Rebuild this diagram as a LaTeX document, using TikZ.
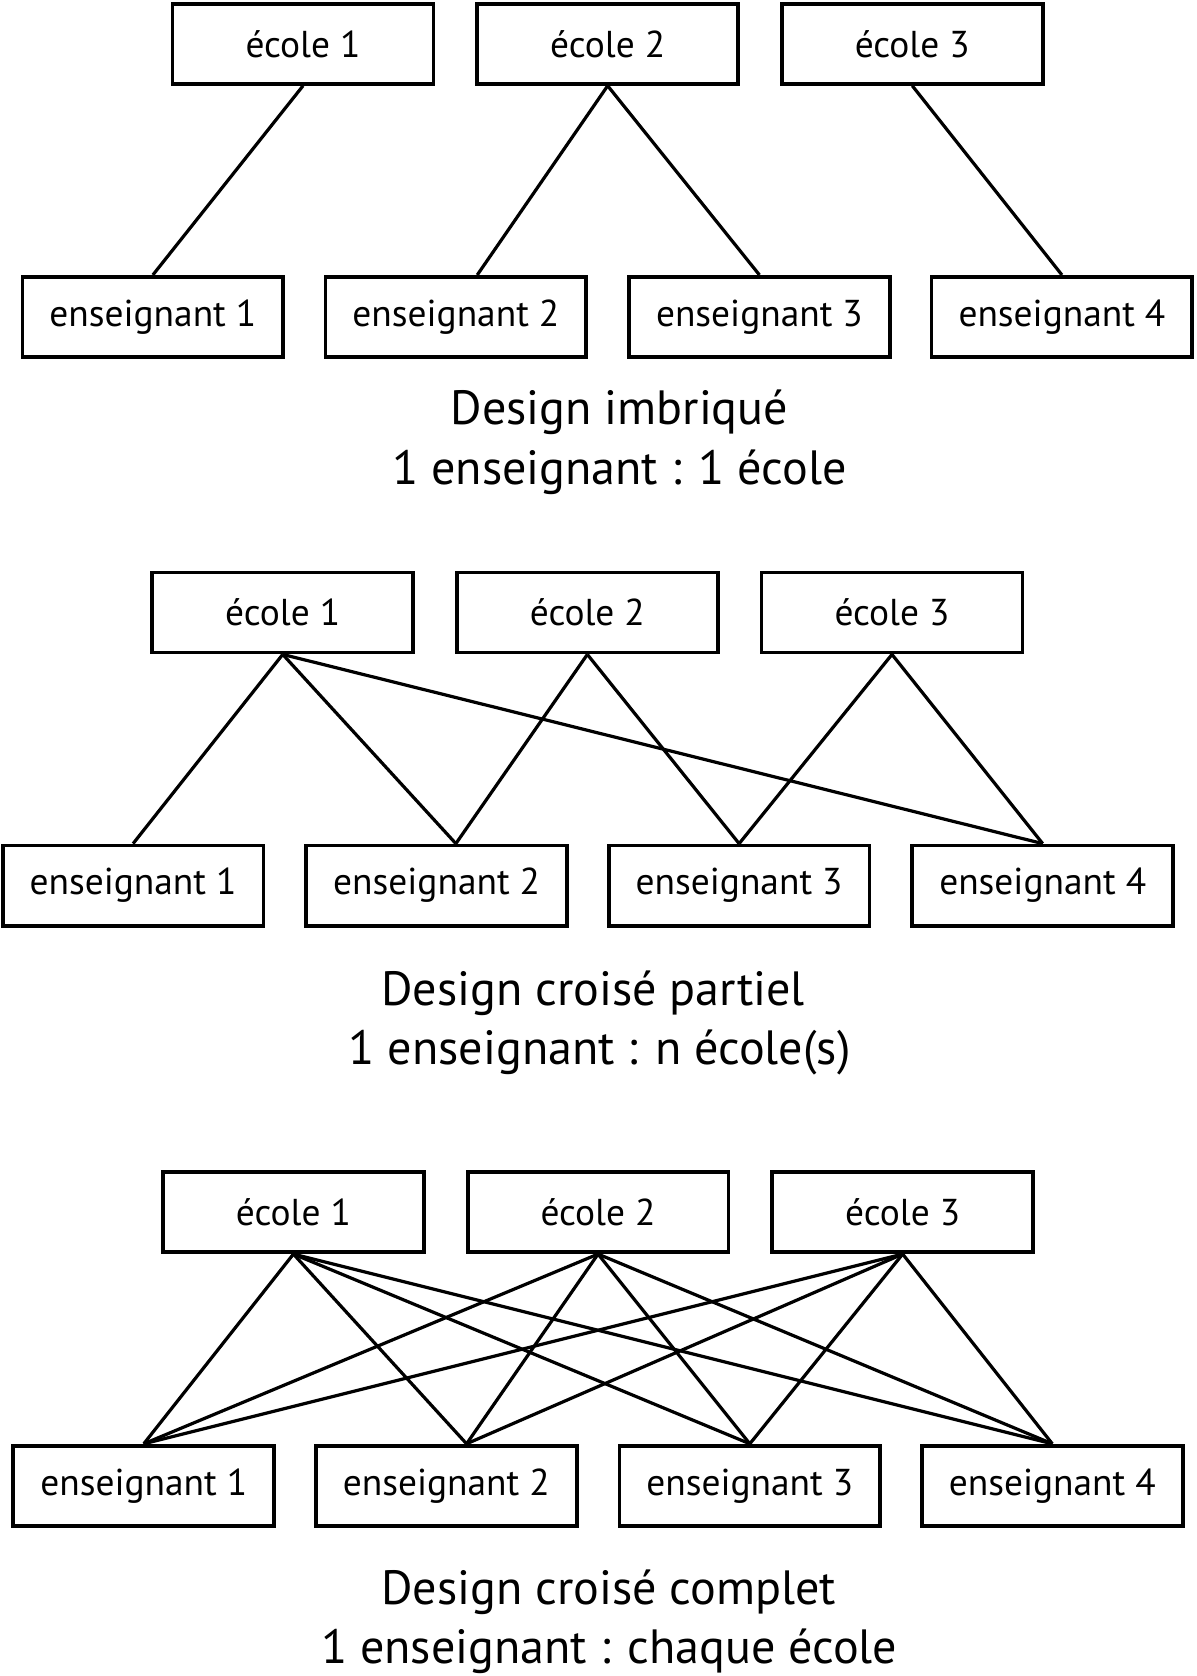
\documentclass[tikz,border=0pt]{standalone}
\usepackage{fontspec}
\setmainfont{PT Sans}
\begin{document}
\begin{tikzpicture}[x=1pt,y=-1pt,
  box/.style={draw, line width=3.5pt, minimum width=244pt, minimum height=75pt, inner sep=0pt, font=\fontsize{35}{42}\selectfont},
  link/.style={line width=3pt},
  ttl/.style={font=\fontsize{45}{54}\selectfont, anchor=base, inner sep=0pt}]
\useasboundingbox (0,0) rectangle (1119,1568);
% Section 1
\node[box] (a1) at (283.5,41) {école 1};
\node[box] (a2) at (568.5,41) {école 2};
\node[box] (a3) at (853.5,41) {école 3};
\node[box] (b1) at (143,296.5) {enseignant 1};
\node[box] (b2) at (426.5,296.5) {enseignant 2};
\node[box] (b3) at (710.5,296.5) {enseignant 3};
\node[box] (b4) at (993.5,296.5) {enseignant 4};
\draw[link] (a1.south) -- (b1.north);
\draw[link] (a2.south) -- ([xshift=20pt]b2.north);
\draw[link] (a2.south) -- (b3.north);
\draw[link] (a3.south) -- (b4.north);
\node[ttl] (t1a) at (579.5,397) {Design imbriqué};
\node[ttl] (t1b) at (579.5,453) {1 enseignant : 1 école};
% Section 2
\node[box] (c1) at (264.5,573) {école 1};
\node[box] (c2) at (549.5,573) {école 2};
\node[box] (c3) at (834.5,573) {école 3};
\node[box] (d1) at (124.5,828.5) {enseignant 1};
\node[box] (d2) at (408.5,828.5) {enseignant 2};
\node[box] (d3) at (691.5,828.5) {enseignant 3};
\node[box] (d4) at (975.5,828.5) {enseignant 4};
\coordinate (d2n) at ([xshift=18pt]d2.north);
\draw[link] (c1.south) -- (d1.north);
\draw[link] (c1.south) -- (d2n);
\draw[link] (c1.south) -- (d4.north);
\draw[link] (c2.south) -- (d2n);
\draw[link] (c2.south) -- (d3.north);
\draw[link] (c3.south) -- (d3.north);
\draw[link] (c3.south) -- (d4.north);
\node[ttl] (t2a) at (555,941) {Design croisé partiel};
\node[ttl] (t2b) at (561,996) {1 enseignant : n école(s)};
% Section 3
\node[box] (e1) at (274.5,1134) {école 1};
\node[box] (e2) at (559.5,1134) {école 2};
\node[box] (e3) at (844.5,1134) {école 3};
\node[box] (f1) at (134.5,1390) {enseignant 1};
\node[box] (f2) at (417.5,1390) {enseignant 2};
\node[box] (f3) at (701.5,1390) {enseignant 3};
\node[box] (f4) at (984.5,1390) {enseignant 4};
\coordinate (f2n) at ([xshift=19pt]f2.north);
\foreach \s in {e1,e2,e3}{
  \draw[link] (\s.south) -- (f1.north);
  \draw[link] (\s.south) -- (f2n);
  \draw[link] (\s.south) -- (f3.north);
  \draw[link] (\s.south) -- (f4.north);
}
\node[ttl] (t3a) at (569.5,1501) {Design croisé complet};
\node[ttl] (t3b) at (570,1556) {1 enseignant : chaque école};
\end{tikzpicture}
\end{document}
